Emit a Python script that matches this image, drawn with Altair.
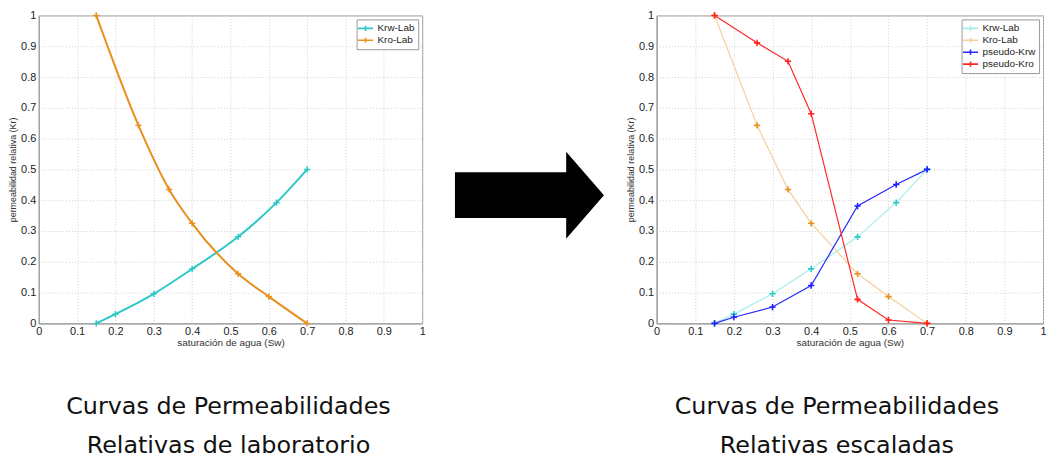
import altair as alt
import pandas as pd

# ---------------- data ----------------
sw_krw = [0.15, 0.2, 0.3, 0.4, 0.52, 0.62, 0.7]
krw_lab = [0.0, 0.03, 0.096, 0.177, 0.281, 0.392, 0.5]
sw_kro = [0.15, 0.26, 0.34, 0.4, 0.52, 0.6, 0.7]
kro_lab = [1.0, 0.643, 0.435, 0.325, 0.161, 0.087, 0.0]
pseudo_krw = [0.0, 0.02, 0.053, 0.123, 0.381, 0.451, 0.5]
pseudo_kro = [1.0, 0.911, 0.851, 0.681, 0.078, 0.011, 0.0]

x_ticks = [0, 0.1, 0.2, 0.3, 0.4, 0.5, 0.6, 0.7, 0.8, 0.9, 1]
y_ticks = [0, 0.1, 0.2, 0.3, 0.4, 0.5, 0.6, 0.7, 0.8, 0.9, 1]

left_series = ["Krw-Lab", "Kro-Lab"]
right_series = ["Krw-Lab", "Kro-Lab", "pseudo-Krw", "pseudo-Kro"]

caption_left = ["Curvas de Permeabilidades", "Relativas de laboratorio"]
caption_right = ["Curvas de Permeabilidades", "Relativas escaladas"]


def frame(pairs):
    rows = []
    for name, xs, ys in pairs:
        for i, (a, b) in enumerate(zip(xs, ys)):
            rows.append({"serie": name, "sw": a, "kr": b, "i": i})
    return pd.DataFrame(rows)


left_df = frame([("Krw-Lab", sw_krw, krw_lab), ("Kro-Lab", sw_kro, kro_lab)])
right_df = frame([
    ("Krw-Lab", sw_krw, krw_lab),
    ("Kro-Lab", sw_kro, kro_lab),
    ("pseudo-Krw", sw_krw, pseudo_krw),
    ("pseudo-Kro", sw_kro, pseudo_kro),
])

FONT = "Liberation Sans"
CROSS = "M-1,0L1,0M0,-1L0,1"
LEG_SYMBOL = "M-1.6,0L1.6,0M0,-0.55L0,0.55"


def x_enc():
    return alt.X(
        "sw:Q",
        scale=alt.Scale(domain=[0, 1], nice=False),
        axis=alt.Axis(
            values=x_ticks, format="~g", title="saturación de agua (Sw)",
            labelOverlap=False, tickCount=11,
            labelFontSize=11, labelColor="#222", labelFont=FONT,
            titleFontSize=10, titleFont=FONT, titleFontWeight="normal", titleColor="#333",
            titlePadding=1, labelPadding=2, tickSize=0,
            domainColor="#999", gridColor="#d0d0d0", gridDash=[1, 2], labelFlush=False,
        ),
    )


def y_enc():
    return alt.Y(
        "kr:Q",
        scale=alt.Scale(domain=[0, 1], nice=False),
        axis=alt.Axis(
            values=y_ticks, format="~g", title="permeabilidad relativa (Kr)",
            labelOverlap=False, tickCount=11,
            labelFontSize=11, labelColor="#222", labelFont=FONT,
            titleFontSize=9, titleFont=FONT, titleFontWeight="normal", titleColor="#333",
            titlePadding=3, labelPadding=3, tickSize=0,
            domainColor="#999", gridColor="#d0d0d0", gridDash=[1, 2],
        ),
    )


def legend():
    return alt.Legend(
        title=None, orient="top-right", offset=4, fillColor="white",
        strokeColor="#999", padding=3, labelFontSize=10, labelFont=FONT,
        labelColor="#222", symbolType=LEG_SYMBOL, symbolSize=90,
        symbolStrokeWidth=1.6, rowPadding=0, labelOffset=6,
    )


def caption(lines, dx):
    return alt.TitleParams(
        text=lines, orient="bottom", anchor="middle", frame="group",
        fontSize=24, font="DejaVu Sans", fontWeight="normal", color="#111",
        lineHeight=40, offset=48, dx=dx,
    )


W_LEFT, W_ARROW, W_RIGHT, H = 386, 170, 389, 310

# ---------------- left chart ----------------
left_color = alt.Color(
    "serie:N",
    scale=alt.Scale(domain=left_series, range=["#2ec8c8", "#e8901e"]),
    legend=legend(),
)
left_lines = alt.Chart(left_df).mark_line(
    strokeWidth=2, interpolate="monotone"
).encode(x=x_enc(), y=y_enc(), color=left_color, detail="serie:N", order="i:Q")
left_pts = alt.Chart(left_df).mark_point(
    shape=CROSS, filled=False, size=40, strokeWidth=1.5, opacity=1
).encode(x=x_enc(), y=y_enc(), color=alt.Color("serie:N", legend=None))
left = alt.layer(left_lines, left_pts).properties(
    width=W_LEFT, height=H, title=caption(caption_left, -2)
)

# ---------------- arrow ----------------
ARROW = "M-1,-0.307L0.493,-0.307L0.493,-0.585L1,0L0.493,0.585L0.493,0.307L-1,0.307Z"
arrow = alt.Chart(pd.DataFrame({"k": [0]})).mark_point(
    shape=ARROW, filled=True, fill="black", strokeWidth=0, size=150 * 150, opacity=1
).encode(x=alt.value(75), y=alt.value(181)).properties(
    width=W_ARROW, height=H, view=alt.ViewBackground(stroke="transparent")
)

# ---------------- right chart ----------------
right_color = alt.Color(
    "serie:N",
    scale=alt.Scale(domain=right_series,
                    range=["#a6ecec", "#f5cf9c", "#2828ff", "#ff2828"]),
    legend=legend(),
)
right_sw = alt.StrokeWidth(
    "serie:N",
    scale=alt.Scale(domain=right_series, range=[1.2, 1.2, 2.4, 2.4]),
    legend=None,
)
right_lines = alt.Chart(right_df).mark_line().encode(
    x=x_enc(), y=y_enc(), color=right_color, strokeWidth=right_sw,
    detail="serie:N", order="i:Q",
)
right_pts = alt.Chart(right_df).mark_point(
    shape=CROSS, filled=False, size=40, strokeWidth=1.6, opacity=1
).encode(
    x=x_enc(), y=y_enc(),
    stroke=alt.Stroke(
        "serie:N",
        scale=alt.Scale(domain=right_series,
                        range=["#2ec8c8", "#e8901e", "#2020ff", "#ff2020"]),
        legend=None,
    ),
)
right = alt.layer(right_lines, right_pts).properties(
    width=W_RIGHT, height=H, title=caption(caption_right, -13)
).resolve_scale(color="independent", stroke="independent")

chart = alt.hconcat(left, arrow, right, spacing=33, bounds="flush").resolve_scale(
    color="independent", stroke="independent"
).resolve_legend(color="independent").properties(
    padding={"left": 8, "top": 7, "right": 0, "bottom": 0},
    background="white",
).configure_view(stroke="#999")

chart.save("out.html", embed_options={"renderer": "svg", "actions": False})
